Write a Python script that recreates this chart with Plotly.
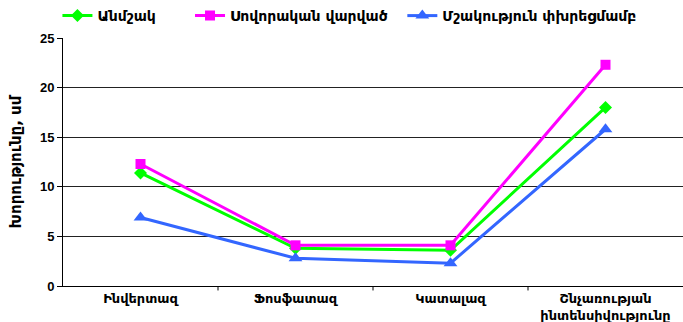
import plotly.graph_objects as go

categories = ["Ինվերտազ", "Ֆոսֆատազ", "Կատալազ", "Շնչառության<br>ինտենսիվությունը"]
untilled = [11.4, 3.8, 3.6, 18.0]
plowed = [12.3, 4.1, 4.1, 22.3]
loosened = [6.9, 2.8, 2.3, 15.8]
y_ticks = [0, 5, 10, 15, 20, 25]

font_family = "DejaVu Sans, Liberation Sans, Arial, sans-serif"
NB = "\u00a0"

fig = go.Figure()
series = [
    ("Անմշակ" + NB * 6, untilled, "#00FF00", "diamond", 10),
    ("Սովորական վարված" + NB * 2, plowed, "#FF00FF", "square", 10),
    ("Մշակություն փխրեցմամբ", loosened, "#3366FF", "triangle-up", 12),
]
for name, vals, color, sym, size in series:
    fig.add_trace(go.Scatter(
        x=list(range(len(categories))), y=vals, name=name, mode="lines+markers",
        line=dict(color=color, width=3),
        marker=dict(symbol=sym, size=size, color=color),
    ))

fig.update_layout(
    width=683, height=322,
    margin=dict(l=63, r=0, t=38, b=36, autoexpand=False),
    paper_bgcolor="white", plot_bgcolor="white",
    font=dict(family=font_family, size=13, color="black"),
    showlegend=True,
    legend=dict(
        orientation="h", x=0.462, xanchor="center", y=1.0, yanchor="top",
        yref="container", font=dict(size=14, weight="bold"),
        itemwidth=30, traceorder="normal",
    ),
)

fig.update_xaxes(
    range=[-0.5, 3.5], automargin=False,
    tickmode="array", tickvals=list(range(len(categories))), ticktext=categories,
    showgrid=False, showline=True, linecolor="black", linewidth=1,
    ticks="", tickfont=dict(size=13, weight="bold"),
    zeroline=False,
)
fig.update_yaxes(
    range=[0, 25], tickvals=y_ticks, automargin=False,
    showgrid=True, gridcolor="#222222", gridwidth=1,
    showline=True, linecolor="black", linewidth=1,
    ticks="outside", ticklen=5, tickcolor="black",
    tickfont=dict(family="Liberation Sans, Arial, sans-serif", size=13, weight="bold"),
    title=dict(text="Խորությունը, սմ", font=dict(size=15, weight="bold"), standoff=14),
    zeroline=False,
)

# category boundary tick marks below the x axis
for b in [0.5, 1.5, 2.5]:
    fig.add_shape(type="line", xref="x", yref="paper", x0=b, x1=b, y0=0, y1=-0.018,
                  line=dict(color="black", width=1))

fig.write_html("out.html")
